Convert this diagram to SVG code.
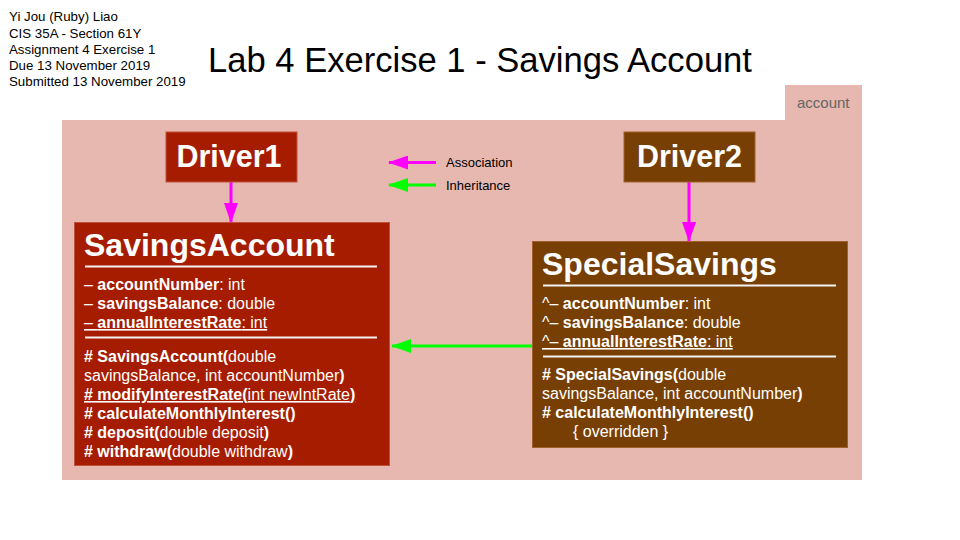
<svg xmlns="http://www.w3.org/2000/svg" width="960" height="540" viewBox="0 0 960 540">
<defs>
<style>
text{font-family:"Liberation Sans",Arial,sans-serif;}
.hdr{font-size:13.3px;fill:#000;}
.title{font-size:34.6px;fill:#000;}
.pkg{fill:#e6b8af;}
.red{fill:#a61c00;stroke:#c0503a;stroke-width:1;}
.brown{fill:#783f04;stroke:#a0602a;stroke-width:1;}
.cls{font-size:32px;font-weight:bold;fill:#fff;}
.drv{font-size:30.5px;font-weight:bold;fill:#fff;}
.body{font-size:16px;fill:#fff;}
.b{font-weight:bold;}
.div{stroke:#f3f3f3;stroke-width:2;}
.assoc{stroke:#ff00ff;stroke-width:3;fill:none;}
.inh{stroke:#00ff00;stroke-width:3;fill:none;}
.leg{font-size:13px;fill:#000;}
</style>
<marker id="ma" viewBox="0 0 20 14" refX="19" refY="7" markerWidth="20" markerHeight="14" markerUnits="userSpaceOnUse" orient="auto"><path d="M0,0 L20,7 L0,14 Z" fill="#ff00ff"/></marker>
<marker id="mi" viewBox="0 0 20 14" refX="19" refY="7" markerWidth="20" markerHeight="14" markerUnits="userSpaceOnUse" orient="auto"><path d="M0,0 L20,7 L0,14 Z" fill="#00ff00"/></marker>
</defs>
<rect width="960" height="540" fill="#fff"/>
<g id="header">
<text class="hdr" x="9" y="21">Yi Jou (Ruby) Liao</text>
<text class="hdr" x="9" y="37.5">CIS 35A - Section 61Y</text>
<text class="hdr" x="9" y="54">Assignment 4 Exercise 1</text>
<text class="hdr" x="9" y="70">Due 13 November 2019</text>
<text class="hdr" x="9" y="86">Submitted 13 November 2019</text>
<text class="title" x="208" y="72">Lab 4 Exercise 1 - Savings Account</text>
</g>
<g id="package">
<rect class="pkg" x="785" y="85" width="77" height="36"/>
<rect class="pkg" x="62" y="120" width="800" height="360"/>
<text x="797" y="108" style="font-size:15px;fill:#666">account</text>
</g>
<g id="legend">
<line class="assoc" x1="436" y1="162.5" x2="389" y2="162.5" marker-end="url(#ma)"/>
<line class="inh" x1="436" y1="185" x2="389" y2="185" marker-end="url(#mi)"/>
<text class="leg" x="446" y="167">Association</text>
<text class="leg" x="446" y="190">Inheritance</text>
</g>
<g id="connectors">
<line class="assoc" x1="231" y1="182" x2="231" y2="222" marker-end="url(#ma)"/>
<line class="assoc" x1="689" y1="182" x2="689" y2="241" marker-end="url(#ma)"/>
<line class="inh" x1="532" y1="346" x2="392" y2="346" marker-end="url(#mi)"/>
</g>
<g id="driver1">
<rect class="red" x="166" y="132" width="131" height="50"/>
<text class="drv" x="229" y="167" text-anchor="middle">Driver1</text>
</g>
<g id="driver2">
<rect class="brown" x="624" y="132" width="131" height="50"/>
<text class="drv" x="689.5" y="167" text-anchor="middle">Driver2</text>
</g>
<g id="savingsAccount">
<rect class="red" x="74.5" y="222.5" width="315" height="243"/>
<text class="cls" x="84" y="256">SavingsAccount</text>
<line class="div" x1="85" y1="266.5" x2="377" y2="266.5"/>
<text class="body" x="84" y="290">– <tspan class="b">accountNumber</tspan>: int</text>
<text class="body" x="84" y="309">– <tspan class="b">savingsBalance</tspan>: double</text>
<text class="body" x="84" y="328" text-decoration="underline">– <tspan class="b">annualInterestRate</tspan>: int</text>
<line class="div" x1="85" y1="337.5" x2="377" y2="337.5"/>
<text class="body" x="84" y="362"><tspan class="b"># SavingsAccount(</tspan>double</text>
<text class="body" x="84" y="381">savingsBalance, int accountNumber<tspan class="b">)</tspan></text>
<text class="body" x="84" y="400" text-decoration="underline"><tspan class="b"># modifyInterestRate(</tspan>int newIntRate<tspan class="b">)</tspan></text>
<text class="body b" x="84" y="419"># calculateMonthlyInterest()</text>
<text class="body" x="84" y="438"><tspan class="b"># deposit(</tspan>double deposit<tspan class="b">)</tspan></text>
<text class="body" x="84" y="457"><tspan class="b"># withdraw(</tspan>double withdraw<tspan class="b">)</tspan></text>
</g>
<g id="specialSavings">
<rect class="brown" x="532.5" y="241.5" width="315" height="206"/>
<text class="cls" x="542" y="275">SpecialSavings</text>
<line class="div" x1="543" y1="285.5" x2="836" y2="285.5"/>
<text class="body" x="542" y="309">^– <tspan class="b">accountNumber</tspan>: int</text>
<text class="body" x="542" y="328">^– <tspan class="b">savingsBalance</tspan>: double</text>
<text class="body" x="542" y="347" text-decoration="underline">^– <tspan class="b">annualInterestRate</tspan>: int</text>
<line class="div" x1="543" y1="356.5" x2="836" y2="356.5"/>
<text class="body" x="542" y="380"><tspan class="b"># SpecialSavings(</tspan>double</text>
<text class="body" x="542" y="399">savingsBalance, int accountNumber<tspan class="b">)</tspan></text>
<text class="body b" x="542" y="418"># calculateMonthlyInterest()</text>
<text class="body" x="573" y="437">{ overridden }</text>
</g>
</svg>
